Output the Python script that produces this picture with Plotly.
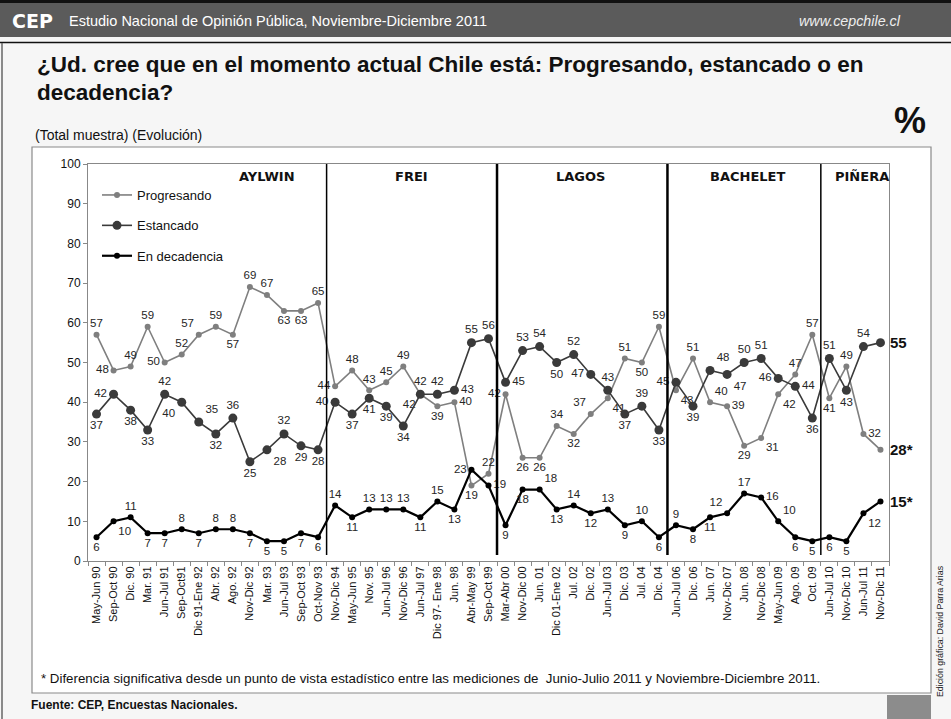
import plotly.graph_objects as go

categories = ["May-Jun 90", "Sep-Oct 90", "Dic. 90", "Mar. 91", "Jun-Jul 91", "Sep-Oct91",
              "Dic 91-Ene 92", "Abr. 92", "Ago. 92", "Nov-Dic 92", "Mar. 93", "Jun-Jul 93",
              "Sep-Oct 93", "Oct-Nov 93", "Nov-Dic 94", "May-Jun 95", "Nov. 95", "Jun-Jul 96",
              "Nov-Dic 96", "Jun-Jul 97", "Dic 97- Ene 98", "Jun. 98", "Abr-May 99", "Sep-Oct 99",
              "Mar-Abr 00", "Nov-Dic 00", "Jun. 01", "Dic 01-Ene 02", "Jul. 02", "Dic. 02",
              "Jun-Jul 03", "Dic. 03", "Jul. 04", "Dic. 04", "Jun-Jul 06", "Dic. 06", "Jun. 07",
              "Nov-Dic 07", "Jun. 08", "Nov-Dic 08", "May-Jun 09", "Ago. 09", "Oct. 09",
              "Jun-Jul 10", "Nov-Dic 10", "Jun-Jul 11", "Nov-Dic 11"]

progresando = [57, 48, 49, 59, 50, 52, 57, 59, 57, 69, 67, 63, 63, 65,
               44, 48, 43, 45, 49, 42, 39, 40, 19, 22,
               42, 26, 26, 34, 32, 37, 41, 51, 50, 59,
               43, 51, 40, 39, 29, 31, 42, 47, 57,
               41, 49, 32, 28]
estancado = [37, 42, 38, 33, 42, 40, 35, 32, 36, 25, 28, 32, 29, 28,
             40, 37, 41, 39, 34, 42, 42, 43, 55, 56,
             45, 53, 54, 50, 52, 47, 43, 37, 39, 33,
             45, 39, 48, 47, 50, 51, 46, 44, 36,
             51, 43, 54, 55]
decadencia = [6, 10, 11, 7, 7, 8, 7, 8, 8, 7, 5, 5, 7, 6,
              14, 11, 13, 13, 13, 11, 15, 13, 23, 19,
              9, 18, 18, 13, 14, 12, 13, 9, 10, 6,
              9, 8, 11, 12, 17, 16, 10, 6, 5,
              6, 5, 12, 15]

series_names = ["Progresando", "Estancado", "En decadencia"]
periods = ["AYLWIN", "FREI", "LAGOS", "BACHELET", "PIÑERA"]
period_sizes = [14, 10, 10, 9, 4]
final_labels = ["28*", "55", "15*"]

# ---- label placement (styling) ----
P_pos = {1: "middle left", 4: "middle left", 6: "top left", 8: "bottom center", 11: "bottom center",
         12: "bottom center", 14: "middle left", 19: "bottom left", 20: "bottom center", 21: "middle right",
         22: "bottom center", 24: "middle left", 25: "bottom center", 26: "bottom center", 28: "bottom center",
         29: "top left", 30: "bottom right", 32: "bottom center", 34: "bottom right", 36: "top right",
         37: "middle right", 38: "bottom center", 39: "bottom right", 40: "bottom right", 43: "bottom center",
         45: "middle right"}
E_pos = {0: "bottom center", 1: "middle left", 2: "bottom center", 3: "bottom center", 5: "bottom left",
         6: "top right", 7: "bottom center", 9: "bottom center", 10: "bottom right", 12: "bottom center",
         13: "bottom center", 14: "middle left", 15: "bottom center", 16: "bottom center", 17: "bottom center",
         18: "bottom center", 21: "middle right", 24: "middle right", 27: "bottom center", 29: "middle left",
         31: "bottom center", 33: "bottom center", 34: "middle left", 35: "bottom center", 36: "top right",
         37: "bottom right", 40: "middle left", 41: "middle right", 42: "bottom center", 44: "bottom center"}
D_pos = {i: "top center" for i in [2, 5, 7, 8, 14, 16, 17, 18, 20, 28, 30, 32, 34, 38]}
D_pos.update({1: "bottom right", 22: "middle left", 23: "middle right", 26: "top right", 37: "top left",
              39: "middle right", 40: "top right", 45: "bottom right"})

n = len(categories)


def positions(d, default):
    return [d.get(i, default) for i in range(n)]


def labels(vals):
    return [str(v) for v in vals[:-1]] + [""]


# pixel -> paper helpers (plot area 88..889 x, 164..561 y)
L, R, T, B = 88, 889, 164, 561
W, H = 951, 719
FONT = "Liberation Sans, Arial"


def px(x):
    return (x - L) / (R - L)


def py(y):
    return (B - y) / (B - T)


fig = go.Figure()

styles = [
    dict(color="#7f7f7f", lw=1.6, ms=6, pos=positions(P_pos, "top center"), vals=progresando),
    dict(color="#3a3a3a", lw=1.6, ms=9, pos=positions(E_pos, "top center"), vals=estancado),
    dict(color="#000000", lw=2.2, ms=6, pos=positions(D_pos, "bottom center"), vals=decadencia),
]
for name, s in zip(series_names, styles):
    fig.add_trace(go.Scatter(
        x=categories, y=s["vals"], name=name, mode="lines+markers+text",
        line=dict(color=s["color"], width=s["lw"]),
        marker=dict(color=s["color"], size=s["ms"]),
        text=labels(s["vals"]), textposition=s["pos"],
        textfont=dict(family=FONT, size=11.5, color="#262626"),
        legendgroup=name, cliponaxis=False,
    ))

# final bold labels
for s, lab in zip(styles, final_labels):
    fig.add_annotation(x=n - 1, y=s["vals"][-1], xref="x", yref="y", text="<b>%s</b>" % lab,
                       showarrow=False, xanchor="left", xshift=8,
                       font=dict(family=FONT, size=15, color="#111"))

shapes = []
# period dividers and labels
start = 0
widths = [None, 1.5, 2.5, 2.5, 1.5]
for i, (p, sz) in enumerate(zip(periods, period_sizes)):
    if i > 0:
        shapes.append(dict(type="line", xref="x", yref="y", x0=start - 0.5, x1=start - 0.5, y0=1.5, y1=100,
                           line=dict(color="black", width=widths[i])))
    start += sz
label_x = [10.0, 18.5, 28.4, 38.2, 44.9]
for p, lx in zip(periods, label_x):
    fig.add_annotation(x=lx, y=96.8, xref="x", yref="y", text="<b>%s</b>" % p, showarrow=False,
                       font=dict(family="DejaVu Sans", size=13, color="#111"))

# page decorations
shapes += [
    dict(type="rect", xref="paper", yref="paper", x0=px(32), x1=px(931), y0=py(147), y1=py(693),
         fillcolor="white", line=dict(color="#8a8a8a", width=1.2), layer="below"),
    dict(type="rect", xref="paper", yref="paper", x0=px(0), x1=px(951), y0=py(0), y1=py(3),
         fillcolor="#111", line=dict(width=0), layer="below"),
    dict(type="rect", xref="paper", yref="paper", x0=px(0), x1=px(951), y0=py(3), y1=py(37),
         fillcolor="#5b5b5b", line=dict(width=0), layer="below"),
    dict(type="line", xref="paper", yref="paper", x0=px(0), x1=px(951), y0=py(42.5), y1=py(42.5),
         line=dict(color="#111", width=1.5), layer="below"),
    dict(type="line", xref="paper", yref="paper", x0=px(2), x1=px(2), y0=py(43), y1=py(719),
         line=dict(color="#666", width=1.5), layer="below"),
    dict(type="rect", xref="paper", yref="paper", x0=px(887), x1=px(931), y0=py(695), y1=py(719),
         fillcolor="#8c8c8c", line=dict(width=0), layer="below"),
]

texts = [
    (10, 21, "<b>CEP</b>", dict(family="DejaVu Sans", size=19, color="white"), "left"),
    (67, 21, "Estudio Nacional de Opinión Pública, Noviembre-Diciembre 2011",
     dict(family=FONT, size=14.5, color="white"), "left"),
    (903, 21, "<i>www.cepchile.cl</i>", dict(family=FONT, size=14.3, color="#eeeeee"), "right"),
    (35, 65, "<b>¿Ud. cree que en el momento actual Chile está: Progresando, estancado o en</b>",
     dict(family=FONT, size=22.5, color="#111"), "left"),
    (35, 92, "<b>decadencia?</b>", dict(family=FONT, size=22.5, color="#111"), "left"),
    (33, 135, "(Total muestra) (Evolución)", dict(family=FONT, size=14, color="#111"), "left"),
    (928, 120, "<b>%</b>", dict(family=FONT, size=36, color="#111"), "right"),
    (39, 678, "* Diferencia significativa desde un punto de vista estadístico entre las mediciones de  "
              "Junio-Julio 2011 y Noviembre-Diciembre 2011.",
     dict(family=FONT, size=13.3, color="#111"), "left"),
    (29, 705, "<b>Fuente: CEP, Encuestas Nacionales.</b>", dict(family=FONT, size=12, color="#111"),
     "left"),
]
for x, y, t, f, anchor in texts:
    fig.add_annotation(x=px(x), y=py(y), xref="paper", yref="paper", text=t, showarrow=False,
                       xanchor=anchor, yanchor="middle", font=f)

fig.add_annotation(x=px(940), y=py(631), xref="paper", yref="paper", text="Edición gráfica: David Parra Arias",
                   showarrow=False, textangle=-90, xanchor="center", yanchor="middle",
                   font=dict(family=FONT, size=8.8, color="#222"))

fig.update_layout(
    width=W, height=H,
    margin=dict(l=L, r=W - R, t=T, b=H - B, pad=0),
    paper_bgcolor="#f6f6f6", plot_bgcolor="white",
    shapes=shapes,
    showlegend=True,
    legend=dict(x=px(97), y=py(180), xanchor="left", yanchor="top", bgcolor="rgba(0,0,0,0)",
                font=dict(family=FONT, size=13, color="#111"), tracegroupgap=10.5),
    xaxis=dict(type="category", categoryorder="array", categoryarray=categories, range=[-0.5, n - 0.5],
               tickangle=-90, tickson="boundaries", ticks="outside", ticklen=4, tickcolor="#888",
               showline=True, linecolor="#888", linewidth=1, mirror=True, showgrid=False,
               tickfont=dict(family=FONT, size=11, color="#111")),
    yaxis=dict(range=[0, 100], dtick=10, ticks="outside", ticklen=4, tickcolor="#888",
               showline=True, linecolor="#888", linewidth=1, mirror=True, showgrid=False, zeroline=False,
               tickfont=dict(family=FONT, size=12, color="#111")),
)

fig.write_html("out.html", config={"displayModeBar": False},
               post_script="document.body.style.margin='0';document.body.style.overflow='hidden';")
